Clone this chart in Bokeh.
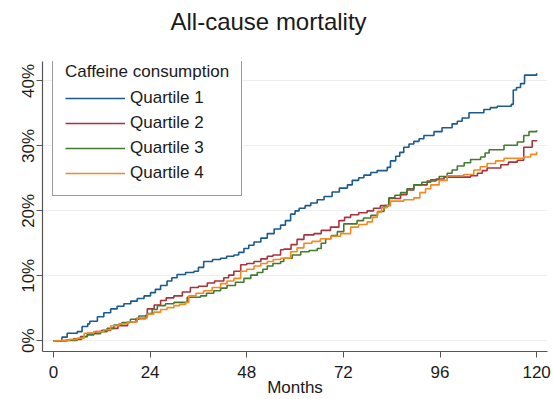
import math
from bokeh.plotting import figure
from bokeh.models import Range1d, FixedTicker, PrintfTickFormatter, Legend, LegendItem, Title
from bokeh.embed import file_html
from bokeh.resources import INLINE

# ---- data (months, cumulative mortality in %) ----
q1_months = [0, 2.1, 3.4, 5.9, 7.1, 8.5, 9.0, 10.9, 12.5, 14.2, 15.8, 17.5, 19.2, 20.8, 22.5, 24.1,
             25.3, 26.6, 28.2, 29.4, 30.7, 32.8, 34.9, 36.0, 37.3, 39.5, 41.5, 43.0, 44.8, 46.0,
             47.3, 48.5, 49.8, 51.5, 53.1, 54.8, 56.4, 57.6, 58.9, 60.0, 61.0, 62.5, 63.9, 65.5,
             67.2, 69.2, 71.0, 73.0, 74.2, 75.8, 77.1, 78.8, 80.4, 82.9, 83.7, 85.0, 86.0, 87.0,
             88.3, 89.5, 90.8, 92.0, 94.5, 96.5, 99.0, 100.3, 101.5, 103.2, 106.9, 108.5, 110.2,
             113.7, 114.2, 115.0, 116.0, 117.0, 120.0]
q1_values = [0, 0.55, 1.15, 1.4, 2.2, 2.6, 3.0, 3.7, 4.3, 4.9, 5.3, 5.7, 6.1, 6.5, 6.9, 7.4,
             7.9, 8.5, 9.2, 9.7, 10.2, 10.5, 10.7, 11.3, 12.2, 12.5, 12.7, 13.0, 13.2, 13.6,
             14.2, 14.7, 15.2, 15.8, 16.5, 17.2, 17.8, 18.5, 19.5, 20.0, 20.4, 20.8, 21.2, 21.7,
             22.2, 22.9, 23.5, 24.0, 24.7, 25.1, 25.5, 25.9, 26.2, 26.7, 27.7, 28.4, 29.0, 29.8,
             30.3, 30.7, 31.1, 31.6, 32.2, 32.8, 33.4, 33.8, 34.3, 35.1, 35.6, 35.9, 36.1,
             36.4, 38.6, 39.0, 39.6, 40.9, 41.2]

q2_months = [0, 3.4, 5.0, 6.7, 8.4, 10.5, 12.0, 14.2, 16.0, 18.4, 20.5, 22.9, 23.3, 25.0, 26.6,
             28.0, 29.9, 32.0, 34.0, 36.0, 38.2, 40.0, 42.3, 43.5, 44.8, 46.5, 48.0, 49.8, 51.5,
             53.1, 54.5, 56.4, 57.2, 59.0, 60.5, 62.2, 64.7, 66.5, 68.8, 70.9, 72.3, 73.8, 75.8,
             77.9, 79.5, 81.2, 83.3, 86.2, 87.8, 89.5, 92.8, 95.0, 97.0, 103.6, 105.3, 106.5,
             107.7, 111.1, 113.0, 115.2, 116.8, 118.9, 120.0]
q2_values = [0, 0.1, 0.3, 0.65, 1.15, 1.4, 1.6, 1.9, 2.3, 2.9, 3.4, 3.9, 4.9, 5.5, 6.2,
             6.6, 6.9, 7.5, 8.2, 8.4, 8.9, 9.2, 9.7, 10.1, 10.7, 11.7, 11.9, 12.2, 12.6,
             13.0, 13.2, 14.0, 14.1, 14.8, 15.6, 16.3, 16.5, 17.0, 17.5, 18.5, 19.0, 19.4, 19.7,
             20.0, 20.4, 20.8, 21.9, 22.5, 23.2, 24.0, 24.6, 24.9, 25.2, 25.4, 25.8, 26.2,
             26.6, 27.1, 27.5, 27.8, 29.8, 30.8, 30.9]

q3_months = [0, 3.0, 5.9, 7.0, 8.4, 10.0, 11.7, 13.3, 15.0, 17.0, 19.1, 21.2, 23.3, 24.5, 25.8,
             27.8, 29.9, 33.2, 36.5, 38.0, 39.8, 41.5, 43.1, 45.2, 47.3, 49.0, 50.6, 52.0, 53.1,
             54.5, 56.4, 57.2, 59.3, 61.4, 63.5, 65.5, 66.5, 67.6, 69.0, 70.5, 72.1, 75.4, 77.0,
             78.8, 80.5, 82.1, 83.3, 84.8, 86.2, 87.8, 89.5, 91.5, 93.7, 95.8, 97.8, 99.0, 100.3,
             102.0, 103.6, 106.1, 107.2, 108.2, 111.9, 115.2, 116.8, 118.1, 120.0]
q3_values = [0, 0.05, 0.2, 0.6, 0.9, 1.1, 1.4, 1.9, 2.4, 2.8, 3.3, 3.8, 4.2, 4.8, 5.4,
             5.7, 5.9, 6.7, 6.9, 7.3, 7.7, 8.1, 8.5, 9.0, 9.6, 10.1, 10.5, 11.0, 11.5,
             11.9, 12.2, 12.7, 13.2, 13.7, 13.9, 14.2, 15.0, 15.7, 16.2, 16.8, 18.0, 18.5, 18.9,
             19.3, 19.9, 20.8, 22.0, 22.4, 22.8, 23.4, 24.0, 24.4, 24.8, 25.3, 25.8, 26.3, 26.9,
             27.4, 27.9, 28.3, 28.9, 29.4, 30.1, 30.6, 31.6, 32.2, 32.4]

q4_months = [0, 2.0, 4.0, 5.9, 7.6, 10.0, 12.5, 14.2, 16.2, 18.3, 20.8, 23.3, 24.9, 26.6, 28.2,
             29.9, 31.3, 32.8, 33.6, 35.4, 37.3, 39.4, 41.5, 43.1, 44.8, 46.5, 48.0, 49.8, 51.5,
             53.1, 54.6, 56.4, 58.9, 60.5, 62.2, 64.2, 66.3, 69.0, 71.3, 73.8, 75.8, 77.9, 79.2,
             80.4, 81.5, 82.9, 83.7, 87.0, 89.5, 91.0, 92.4, 93.7, 95.8, 97.8, 101.9, 104.4,
             106.0, 107.7, 109.8, 111.9, 116.8, 118.5, 120.0]
q4_values = [0, 0.05, 0.2, 0.4, 1.15, 1.4, 1.7, 2.3, 2.6, 2.9, 3.5, 4.1, 4.4, 4.8, 5.1,
             5.4, 5.6, 5.9, 6.9, 7.3, 7.7, 8.2, 8.8, 9.2, 9.6, 10.7, 11.0, 11.5, 11.9,
             12.2, 12.5, 12.7, 13.7, 14.3, 15.0, 15.3, 15.7, 16.1, 16.5, 17.5, 17.9, 18.3, 19.0,
             19.8, 20.5, 20.8, 21.5, 21.7, 22.0, 22.8, 23.4, 24.0, 24.7, 25.4, 25.6, 26.3,
             26.8, 27.3, 27.7, 28.1, 28.3, 28.7, 29.1]

series_labels = ["Quartile 1", "Quartile 2", "Quartile 3", "Quartile 4"]
series_colors = ["#1b5a8c", "#a8333f", "#437a30", "#f7881f"]
x_ticks = [0, 24, 48, 72, 96, 120]
y_ticks = [0, 10, 20, 30, 40]
chart_title = "All-cause mortality"

FONT = "Liberation Sans"

p = figure(width=553, height=399,
           output_backend="svg", toolbar_location=None,
           x_range=Range1d(-2.73, 122.7), y_range=Range1d(-1.66, 43.0),
           min_border_left=42, min_border_right=6, min_border_top=56, min_border_bottom=47)

# empty spacer panel between the frame and the title, to lift the title
p.add_layout(Title(text=" ", text_font_size="14px", standoff=4), "above")

p.title.text = chart_title
p.title.align = "left"
p.title.offset = 128
p.title.text_font = FONT
p.title.text_font_size = "24px"
p.title.text_font_style = "normal"
p.title.text_color = "#1a1a1a"
p.outline_line_color = None
p.background_fill_color = "white"
p.border_fill_color = "white"

renderers = []
for xs, ys, c in zip([q1_months, q2_months, q3_months, q4_months],
                     [q1_values, q2_values, q3_values, q4_values], series_colors):
    r = p.step(xs, ys, mode="after", line_color=c, line_width=1.6)
    renderers.append(r)

p.xaxis.ticker = FixedTicker(ticks=x_ticks)
p.yaxis.ticker = FixedTicker(ticks=y_ticks)
p.yaxis.formatter = PrintfTickFormatter(format="%d%%")
p.yaxis.major_label_orientation = "vertical"
p.xaxis.axis_label = "Months"

for ax in [p.xaxis[0], p.yaxis[0]]:
    ax.axis_line_color = "#555555"
    ax.axis_line_width = 1.2
    ax.major_tick_line_color = "#555555"
    ax.major_tick_out = 6
    ax.major_tick_in = 0
    ax.minor_tick_line_color = None
    ax.major_label_text_font = FONT
    ax.major_label_text_font_size = "17px"
    ax.major_label_text_color = "#1a1a1a"
    ax.axis_label_text_font = FONT
    ax.axis_label_text_font_size = "17px"
    ax.axis_label_text_font_style = "normal"
    ax.axis_label_text_color = "#1a1a1a"

p.xaxis.major_label_standoff = 8
p.xaxis.axis_label_standoff = -3
p.yaxis.major_label_standoff = -2

p.xgrid.grid_line_color = None
p.ygrid.grid_line_color = "#eeeeee"
p.ygrid.grid_line_width = 1

legend = Legend(items=[LegendItem(label=l, renderers=[r]) for l, r in zip(series_labels, renderers)],
                location=(10, 155))
legend.title = "Caffeine consumption"
legend.title_text_font = FONT
legend.title_text_font_size = "17px"
legend.title_text_font_style = "normal"
legend.title_text_color = "#1a1a1a"
legend.title_standoff = 6
legend.label_text_font = FONT
legend.label_text_font_size = "17px"
legend.label_text_color = "#1a1a1a"
legend.label_height = 20
legend.glyph_height = 20
legend.glyph_width = 60
legend.spacing = 5
legend.padding = 12
legend.margin = 0
legend.border_line_color = "#333333"
legend.border_line_width = 1
legend.background_fill_color = "white"
legend.background_fill_alpha = 1
p.add_layout(legend)

open("out.html", "w").write(file_html(p, INLINE))
